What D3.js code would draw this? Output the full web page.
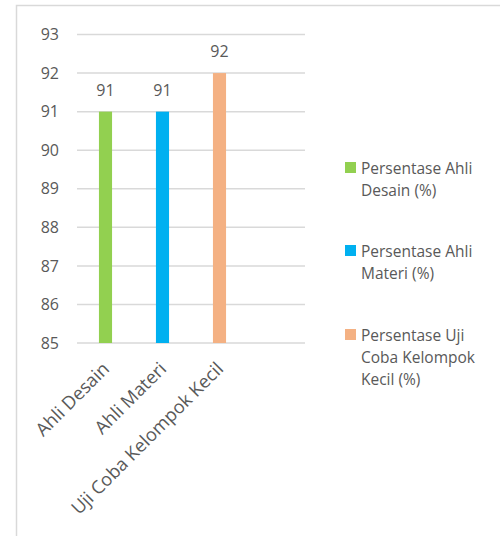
<!DOCTYPE html>
<html>
<head>
<meta charset="utf-8">
<script src="https://cdn.jsdelivr.net/npm/d3@7"></script>
<style>
  body { margin: 0; background: #fff; }
  text { font-family: "Open Sans", sans-serif; fill: #595959; }
  .grid line { stroke: #d9d9d9; stroke-width: 1.5; }
</style>
</head>
<body>
<div id="chart"></div>
<script>
const categories = ['Ahli Desain', 'Ahli Materi', 'Uji Coba Kelompok Kecil'];
const values = [91, 91, 92];
const seriesNames = ['Persentase Ahli Desain (%)', 'Persentase Ahli Materi (%)', 'Persentase Uji Coba Kelompok Kecil (%)'];
const legendLines = [['Persentase Ahli', 'Desain (%)'], ['Persentase Ahli', 'Materi (%)'], ['Persentase Uji', 'Coba Kelompok', 'Kecil (%)']];
const colors = ['#92d050', '#00b0f0', '#f4b183'];
const yTicks = [85, 86, 87, 88, 89, 90, 91, 92, 93];

const width = 500, height = 536;
const plot = {left: 77, right: 305, top: 34.5, bottom: 343};

const svg = d3.select('#chart').append('svg')
  .attr('width', width)
  .attr('height', height);

// chart frame (cut off at the right and bottom of the picture)
svg.append('rect')
  .attr('x', 16.5).attr('y', 5.5)
  .attr('width', 500).attr('height', 540)
  .attr('fill', '#fff')
  .attr('stroke', '#d9d9d9')
  .attr('stroke-width', 1.5);

// four slots, the last one is empty
const x = d3.scaleBand()
  .domain([...categories, ''])
  .range([plot.left, plot.right])
  .paddingInner(0.77)
  .paddingOuter(0.385);

const y = d3.scaleLinear()
  .domain([85, 93])
  .range([plot.bottom, plot.top]);

// gridlines
svg.append('g')
  .attr('class', 'grid')
  .selectAll('line')
  .data(yTicks)
  .enter()
  .append('line')
  .attr('x1', plot.left)
  .attr('x2', plot.right)
  .attr('y1', (d) => y(d))
  .attr('y2', (d) => y(d));

// y axis labels
const yAxis = svg.append('g')
  .attr('transform', 'translate(' + plot.left + ',0)')
  .call(d3.axisLeft(y).tickValues(yTicks).tickSize(0).tickPadding(18));
yAxis.select('.domain').remove();
yAxis.selectAll('text')
  .style('font-size', '16px')
  .style('font-family', '"Open Sans", sans-serif')
  .attr('fill', '#595959');

// bars
svg.append('g')
  .selectAll('rect')
  .data(values)
  .enter()
  .append('rect')
  .attr('x', (d, i) => x(categories[i]))
  .attr('y', (d) => y(d))
  .attr('width', x.bandwidth())
  .attr('height', (d) => y(85) - y(d))
  .attr('fill', (d, i) => colors[i]);

// value labels
svg.append('g')
  .selectAll('text')
  .data(values)
  .enter()
  .append('text')
  .attr('x', (d, i) => x(categories[i]) + x.bandwidth() / 2)
  .attr('y', (d) => y(d) - 16)
  .attr('text-anchor', 'middle')
  .style('font-size', '16px')
  .text((d) => d);

// x axis labels, rotated
const xAxis = svg.append('g')
  .attr('transform', 'translate(0,' + plot.bottom + ')')
  .call(d3.axisBottom(x).tickValues(categories).tickSize(0).tickPadding(0));
xAxis.select('.domain').remove();
xAxis.selectAll('text')
  .style('font-size', '18.3px')
  .style('font-family', '"Open Sans", sans-serif')
  .attr('fill', '#595959')
  .attr('text-anchor', 'end')
  .attr('dy', 0)
  .attr('transform', 'translate(5,27) rotate(-45)');

// legend
const legend = svg.append('g')
  .selectAll('g')
  .data(seriesNames)
  .enter()
  .append('g')
  .attr('transform', (d, i) => 'translate(345,' + [162, 245, 329][i] + ')');

legend.append('rect')
  .attr('width', 11)
  .attr('height', 11)
  .attr('fill', (d, i) => colors[i]);

legend.append('text')
  .style('font-size', '15.5px')
  .selectAll('tspan')
  .data((d, i) => legendLines[i])
  .enter()
  .append('tspan')
  .attr('x', 16)
  .attr('y', (d, j) => 11.5 + j * 22)
  .text((d) => d);
</script>
</body>
</html>
